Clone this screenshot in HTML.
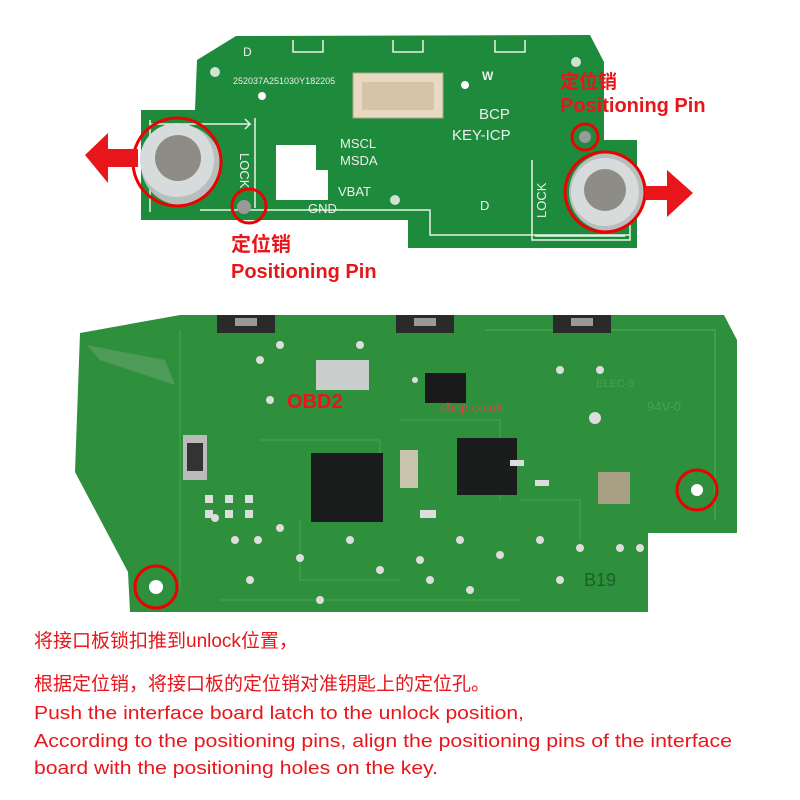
<!DOCTYPE html>
<html><head><meta charset="utf-8"><style>html,body{margin:0;padding:0;background:#fff}svg{display:block}</style></head><body>
<svg width="800" height="800" viewBox="0 0 800 800" xmlns="http://www.w3.org/2000/svg" font-family="Liberation Sans, Noto Sans CJK SC, sans-serif">
<rect width="800" height="800" fill="#fff"/>
<!-- top board -->
<polygon points="197,60 236,36 590,35 604,62 604,140 637,140 637,248 408,248 408,220 141,220 141,110 195,110" fill="#1e8a3c"/>
<g fill="none" stroke="#e8f3ea" stroke-width="1.5">
<path d="M293,40 v12 h30 v-12 M393,40 v12 h30 v-12 M495,40 v12 h30 v-12"/>
<path d="M150,120 v92 M150,124 h100 l-5,-5 M250,124 l-5,5 M255,118 v90 M532,160 v80 h98 v-80 M535,236 h90"/>
<path d="M200,210 h230 v25 h200"/>
</g>
<circle cx="215" cy="72" r="5" fill="#cfe3d0"/><circle cx="262" cy="96" r="4" fill="#fff"/>
<circle cx="576" cy="62" r="5" fill="#cfe3d0"/><circle cx="465" cy="85" r="4" fill="#fff"/>
<circle cx="395" cy="200" r="5" fill="#cfe3d0"/>
<text x="233" y="84" font-size="9" fill="#e8f0e8">252037A251030Y182205</text>
<rect x="353" y="73" width="90" height="45" fill="#e8d9c3" stroke="#b9a384"/>
<rect x="362" y="82" width="72" height="28" fill="#d6c4a8"/>
<path d="M276,145 h40 v25 h12 v30 h-52z" fill="#fff"/>
<text x="243" y="56" font-size="12" fill="#eee">D</text>
<text x="479" y="119" font-size="15" fill="#eee">BCP</text>
<text x="452" y="140" font-size="15" fill="#eee">KEY-ICP</text>
<text x="340" y="148" font-size="13" fill="#eee">MSCL</text>
<text x="340" y="165" font-size="13" fill="#eee">MSDA</text>
<text x="338" y="196" font-size="13" fill="#eee">VBAT</text>
<text x="308" y="213" font-size="13" fill="#eee">GND</text>
<text x="480" y="210" font-size="13" fill="#eee">D</text>
<text x="240" y="153" font-size="13" fill="#eee" transform="rotate(90 240 153)">LOCK</text>
<text x="546" y="218" font-size="13" fill="#eee" transform="rotate(-90 546 218)">LOCK</text>
<text x="482" y="80" font-size="12" font-weight="bold" fill="#eee">W</text>
<!-- screws -->
<circle cx="181" cy="165" r="40" fill="#b8bdbd"/><circle cx="177" cy="160" r="37" fill="#d8dbdb"/><circle cx="178" cy="158" r="23" fill="#8d8c85"/>
<circle cx="608" cy="192" r="39" fill="#b8bdbd"/><circle cx="605" cy="192" r="34" fill="#d8dbdb"/><circle cx="605" cy="190" r="21" fill="#8d8c85"/>
<circle cx="244" cy="207" r="7" fill="#999"/><circle cx="585" cy="137" r="6" fill="#999"/>
<g fill="none" stroke="#e00" stroke-width="3">
<circle cx="177" cy="162" r="44"/><circle cx="605" cy="192" r="40"/>
<circle cx="249" cy="206" r="17"/><circle cx="585" cy="137" r="13"/>
</g>
<polygon points="85,155 108,133 108,149 138,149 138,167 108,167 108,183" fill="#e8161b"/>
<polygon points="693,193 667,170 667,186 645,186 645,200 667,200 667,217" fill="#e8161b"/>
<g fill="#e8161b" font-weight="bold">
<text x="231" y="251" font-size="20">定位销</text>
<text x="231" y="278" font-size="20">Positioning Pin</text>
<text x="560" y="88" font-size="19">定位销</text>
<text x="560" y="112" font-size="20">Positioning Pin</text>
</g>
<!-- bottom board -->
<polygon points="80,333 180,315 724,315 737,340 737,533 648,533 648,612 130,612 128,572 75,472" fill="#2e8f3c"/>
<polygon points="87,345 165,360 175,385 100,360" fill="#4e9a58"/>
<path d="M485,330 h230 v190" fill="none" stroke="#3fa04b" stroke-width="2"/>
<g fill="none" stroke="#3f9e4a" stroke-width="1.5">
<path d="M180,330 v260 M260,440 h120 v40 M400,420 h100 v80 M300,520 v60 h100 M520,500 h60 v40 M220,600 h300"/>
</g>
<g fill="#2a2a2a"><rect x="217" y="315" width="58" height="18"/><rect x="396" y="315" width="58" height="18"/><rect x="553" y="315" width="58" height="18"/></g>
<g fill="#999"><rect x="235" y="318" width="22" height="8"/><rect x="414" y="318" width="22" height="8"/><rect x="571" y="318" width="22" height="8"/></g>
<rect x="316" y="360" width="53" height="30" fill="#c9cdcb"/>
<rect x="425" y="373" width="41" height="30" fill="#1a1a1a"/>
<rect x="311" y="453" width="72" height="69" fill="#1b1d1c"/>
<rect x="457" y="438" width="60" height="57" fill="#1b1d1c"/>
<rect x="598" y="472" width="32" height="32" fill="#a89f85"/>
<rect x="400" y="450" width="18" height="38" fill="#c9c2ad"/>
<rect x="183" y="435" width="24" height="45" fill="#bbb"/><rect x="187" y="443" width="16" height="28" fill="#333"/>
<g fill="#ddd">
<rect x="205" y="495" width="8" height="8"/><rect x="225" y="495" width="8" height="8"/><rect x="245" y="495" width="8" height="8"/><rect x="205" y="510" width="8" height="8"/><rect x="225" y="510" width="8" height="8"/><rect x="245" y="510" width="8" height="8"/><rect x="510" y="460" width="14" height="6"/><rect x="535" y="480" width="14" height="6"/><rect x="420" y="510" width="16" height="8"/>
<circle cx="215" cy="518" r="4"/><circle cx="235" cy="540" r="4"/><circle cx="258" cy="540" r="4"/><circle cx="280" cy="528" r="4"/><circle cx="300" cy="558" r="4"/><circle cx="350" cy="540" r="4"/><circle cx="380" cy="570" r="4"/><circle cx="420" cy="560" r="4"/><circle cx="460" cy="540" r="4"/><circle cx="500" cy="555" r="4"/><circle cx="540" cy="540" r="4"/><circle cx="580" cy="548" r="4"/><circle cx="560" cy="370" r="4"/><circle cx="600" cy="370" r="4"/><circle cx="270" cy="400" r="4"/><circle cx="280" cy="345" r="4"/><circle cx="360" cy="345" r="4"/><circle cx="320" cy="600" r="4"/><circle cx="250" cy="580" r="4"/><circle cx="595" cy="418" r="6"/>
<circle cx="260" cy="360" r="4"/><circle cx="415" cy="380" r="3"/><circle cx="430" cy="580" r="4"/><circle cx="470" cy="590" r="4"/><circle cx="560" cy="580" r="4"/><circle cx="620" cy="548" r="4"/><circle cx="640" cy="548" r="4"/>
</g>
<text x="596" y="387" font-size="11" fill="#4aa054">ELEC-5</text>
<text x="647" y="411" font-size="13" fill="#4aa054">94V-0</text>
<text x="584" y="586" font-size="18" fill="#1d5f2a">B19</text>
<text x="287" y="408" font-size="20" font-weight="bold" fill="#e8161b">OBD2</text>
<text x="440" y="412" font-size="13" fill="#d44">shop.co.uk</text>
<circle cx="697" cy="490" r="6" fill="#fff"/><circle cx="156" cy="587" r="7" fill="#fff"/>
<g fill="none" stroke="#e00" stroke-width="3"><circle cx="697" cy="490" r="20"/><circle cx="156" cy="587" r="21"/></g>
<!-- bottom text -->
<g fill="#e8161b">
<text x="34" y="647" font-size="19">将接口板锁扣推到unlock位置，</text>
<text x="34" y="690" font-size="19">根据定位销，将接口板的定位销对准钥匙上的定位孔。</text>
<text x="34" y="719" font-size="18" textLength="490" lengthAdjust="spacingAndGlyphs">Push the interface board latch to the unlock position,</text>
<text x="34" y="747" font-size="18" textLength="698" lengthAdjust="spacingAndGlyphs">According to the positioning pins, align the positioning pins of the interface</text>
<text x="34" y="774" font-size="18" textLength="404" lengthAdjust="spacingAndGlyphs">board with the positioning holes on the key.</text>
</g>
</svg>
</body></html>
